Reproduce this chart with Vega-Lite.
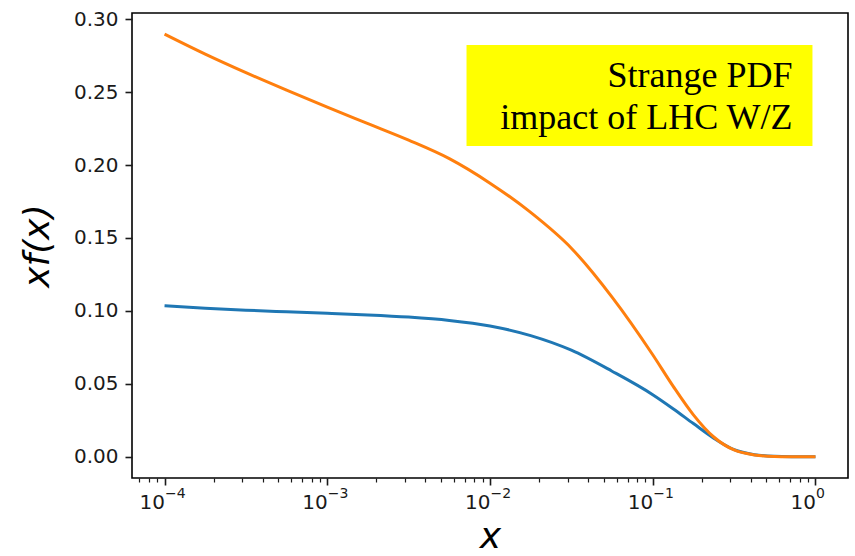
{
  "$schema": "https://vega.github.io/schema/vega-lite/v6.json",
  "width": 716,
  "height": 465,
  "autosize": "none",
  "padding": {"left": 132, "top": 13, "right": 7, "bottom": 78},
  "background": "white",
  "datasets": {
    "curves": [
      {"x": 0.0001, "xf": 0.1035, "fit": "without LHC W/Z"},
      {"x": 0.000177828, "xf": 0.1019, "fit": "without LHC W/Z"},
      {"x": 0.000316228, "xf": 0.1005, "fit": "without LHC W/Z"},
      {"x": 0.000562341, "xf": 0.0994, "fit": "without LHC W/Z"},
      {"x": 0.001, "xf": 0.0984, "fit": "without LHC W/Z"},
      {"x": 0.00177828, "xf": 0.0973, "fit": "without LHC W/Z"},
      {"x": 0.00316228, "xf": 0.0958, "fit": "without LHC W/Z"},
      {"x": 0.00562341, "xf": 0.0935, "fit": "without LHC W/Z"},
      {"x": 0.01, "xf": 0.0897, "fit": "without LHC W/Z"},
      {"x": 0.0177828, "xf": 0.0831, "fit": "without LHC W/Z"},
      {"x": 0.0316228, "xf": 0.0731, "fit": "without LHC W/Z"},
      {"x": 0.0562341, "xf": 0.0587, "fit": "without LHC W/Z"},
      {"x": 0.1, "xf": 0.0426, "fit": "without LHC W/Z"},
      {"x": 0.133352, "xf": 0.0330, "fit": "without LHC W/Z"},
      {"x": 0.177828, "xf": 0.0228, "fit": "without LHC W/Z"},
      {"x": 0.237137, "xf": 0.0128, "fit": "without LHC W/Z"},
      {"x": 0.316228, "xf": 0.0049, "fit": "without LHC W/Z"},
      {"x": 0.421697, "xf": 0.0015, "fit": "without LHC W/Z"},
      {"x": 0.562341, "xf": 0.0004, "fit": "without LHC W/Z"},
      {"x": 0.749894, "xf": 0.0001, "fit": "without LHC W/Z"},
      {"x": 1.0, "xf": 0.0000, "fit": "without LHC W/Z"},
      {"x": 0.0001, "xf": 0.2897, "fit": "with LHC W/Z"},
      {"x": 0.000177828, "xf": 0.2760, "fit": "with LHC W/Z"},
      {"x": 0.000316228, "xf": 0.2633, "fit": "with LHC W/Z"},
      {"x": 0.000562341, "xf": 0.2513, "fit": "with LHC W/Z"},
      {"x": 0.001, "xf": 0.2397, "fit": "with LHC W/Z"},
      {"x": 0.00177828, "xf": 0.2284, "fit": "with LHC W/Z"},
      {"x": 0.00316228, "xf": 0.2171, "fit": "with LHC W/Z"},
      {"x": 0.00562341, "xf": 0.2044, "fit": "with LHC W/Z"},
      {"x": 0.01, "xf": 0.1876, "fit": "with LHC W/Z"},
      {"x": 0.0177828, "xf": 0.1675, "fit": "with LHC W/Z"},
      {"x": 0.0316228, "xf": 0.1430, "fit": "with LHC W/Z"},
      {"x": 0.0562341, "xf": 0.1095, "fit": "with LHC W/Z"},
      {"x": 0.1, "xf": 0.0700, "fit": "with LHC W/Z"},
      {"x": 0.133352, "xf": 0.0485, "fit": "with LHC W/Z"},
      {"x": 0.177828, "xf": 0.0288, "fit": "with LHC W/Z"},
      {"x": 0.237137, "xf": 0.0136, "fit": "with LHC W/Z"},
      {"x": 0.316228, "xf": 0.0047, "fit": "with LHC W/Z"},
      {"x": 0.421697, "xf": 0.0013, "fit": "with LHC W/Z"},
      {"x": 0.562341, "xf": 0.0003, "fit": "with LHC W/Z"},
      {"x": 0.749894, "xf": 0.0001, "fit": "with LHC W/Z"},
      {"x": 1.0, "xf": 0.0000, "fit": "with LHC W/Z"}
    ],
    "box": [
      {"x0": 0.007173, "x1": 0.9585, "y0": 0.2130, "y1": 0.2822}
    ],
    "caption": [
      {"x": 0.7225, "y": 0.2533, "text": "Strange PDF"},
      {"x": 0.7225, "y": 0.2246, "text": "impact of LHC W/Z"}
    ]
  },
  "config": {
    "view": {"stroke": "#000000", "strokeWidth": 1.6},
    "axis": {
      "domain": false,
      "grid": false,
      "labelFont": "DejaVu Sans",
      "labelFontSize": 20,
      "labelColor": "#1a1a1a",
      "tickColor": "#1a1a1a",
      "tickWidth": 1.6,
      "tickSize": 7,
      "labelPadding": 7,
      "titleFont": "DejaVu Sans",
      "titleFontStyle": "italic",
      "titleFontWeight": "normal",
      "titleFontSize": 36,
      "titleColor": "#000000"
    }
  },
  "resolve": {"axis": {"x": "independent"}},
  "layer": [
    {
      "data": {"name": "box"},
      "mark": {"type": "rect", "fill": "#ffff00"},
      "encoding": {
        "x": {"field": "x0", "type": "quantitative", "scale": {"type": "log", "domain": [0.0000630957, 1.5848932], "nice": false}, "axis": null},
        "x2": {"field": "x1"},
        "y": {"field": "y0", "type": "quantitative"},
        "y2": {"field": "y1"}
      }
    },
    {
      "data": {"name": "caption"},
      "mark": {"type": "text", "font": "Liberation Serif", "fontSize": 36, "align": "right", "baseline": "alphabetic", "color": "#000000"},
      "encoding": {
        "x": {
          "field": "x",
          "type": "quantitative",
          "axis": {
            "title": null,
            "orient": "bottom",
            "values": [0.0001, 0.001, 0.01, 0.1, 1],
            "labelExpr": "datum.value == 0.0001 ? '−4' : datum.value == 0.001 ? '−3' : datum.value == 0.01 ? '−2' : datum.value == 0.1 ? '−1' : '0'",
            "ticks": false,
            "tickSize": 0,
            "labelFontSize": 14,
            "labelAlign": "left",
            "labelDx": 3,
            "labelPadding": 8,
            "labelBaseline": "top",
            "labelOverlap": false,
            "labelFlush": false
          }
        },
        "y": {"field": "y", "type": "quantitative"},
        "text": {"field": "text"}
      }
    },
    {
      "data": {"name": "curves"},
      "mark": {"type": "line", "strokeWidth": 3, "interpolate": "monotone", "clip": true},
      "encoding": {
        "x": {
          "field": "x",
          "type": "quantitative",
          "scale": {"type": "log", "domain": [0.0000630957, 1.5848932], "nice": false},
          "axis": {
            "title": "x",
            "orient": "bottom",
            "titleY": 77,
            "titleBaseline": "bottom",
            "values": [0.00007, 0.00008, 0.00009, 0.0001, 0.0002, 0.0003, 0.0004, 0.0005, 0.0006, 0.0007, 0.0008, 0.0009, 0.001, 0.002, 0.003, 0.004, 0.005, 0.006, 0.007, 0.008, 0.009, 0.01, 0.02, 0.03, 0.04, 0.05, 0.06, 0.07, 0.08, 0.09, 0.1, 0.2, 0.3, 0.4, 0.5, 0.6, 0.7, 0.8, 0.9, 1],
            "labelExpr": "indexof([0.0001, 0.001, 0.01, 0.1, 1], datum.value) >= 0 ? '10' : ''",
            "labelAlign": "right",
            "labelDx": 2,
            "labelBaseline": "top",
            "labelOverlap": false,
            "labelFlush": false,
            "tickSize": {"condition": {"test": "indexof([0.0001, 0.001, 0.01, 0.1, 1], datum.value) >= 0", "value": 7}, "value": 4},
            "tickWidth": {"condition": {"test": "indexof([0.0001, 0.001, 0.01, 0.1, 1], datum.value) >= 0", "value": 1.6}, "value": 1.2}
          }
        },
        "y": {
          "field": "xf",
          "type": "quantitative",
          "scale": {"domain": [-0.0145, 0.3042], "nice": false, "zero": false},
          "axis": {
            "title": "xf(x)",
            "titleX": -95,
            "titleBaseline": "middle",
            "values": [0, 0.05, 0.1, 0.15, 0.2, 0.25, 0.3],
            "format": ".2f"
          }
        },
        "color": {
          "field": "fit",
          "type": "nominal",
          "scale": {"domain": ["without LHC W/Z", "with LHC W/Z"], "range": ["#1f77b4", "#ff7f0e"]},
          "legend": null
        }
      }
    }
  ]
}
